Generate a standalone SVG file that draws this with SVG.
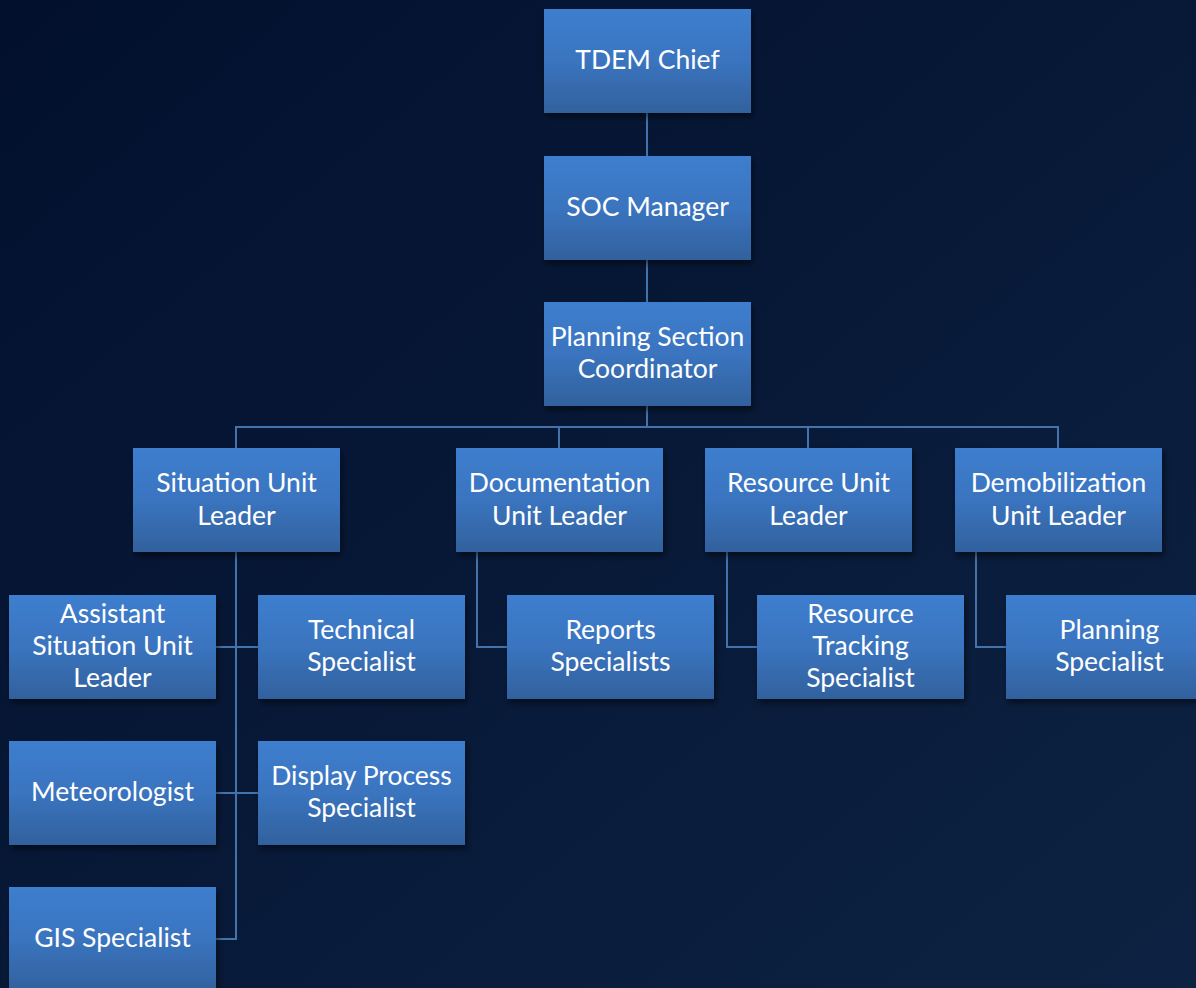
<svg xmlns="http://www.w3.org/2000/svg" width="1196" height="988" viewBox="0 0 1196 988">
<defs>
<linearGradient id="bg" x1="0" y1="0" x2="1" y2="1">
<stop offset="0" stop-color="#02102d"/>
<stop offset="1" stop-color="#0d2242"/>
</linearGradient>
<linearGradient id="box" x1="0" y1="0" x2="0" y2="1">
<stop offset="0" stop-color="#3d7ece"/>
<stop offset="0.5" stop-color="#3a74bf"/>
<stop offset="1" stop-color="#32619d"/>
</linearGradient>
<filter id="sh" x="-10%" y="-10%" width="130%" height="140%">
<feDropShadow dx="2" dy="4" stdDeviation="3" flood-color="#000000" flood-opacity="0.5"/>
</filter>
</defs>
<style>
.n rect{fill:url(#box);filter:url(#sh);}
.n text{fill:#ffffff;font-family:Lato,"Open Sans","Liberation Sans",sans-serif;font-size:26.5px;text-anchor:middle;}
.c path{fill:none;stroke:#4572a8;stroke-width:2;}
</style>
<rect width="1196" height="988" fill="url(#bg)"/>
<g id="connectors" class="c">
<path d="M647 112V156M647 259V302M647 405V427"/>
<path d="M236 448V427H1058V448M559 427V448M808 427V448"/>
<path d="M236 551V939H215M215 647H258M215 793H258"/>
<path d="M477 551V647H507"/>
<path d="M727 551V647H757"/>
<path d="M976 551V647H1006"/>
</g>
<g id="tdem-chief" class="n"><rect x="544" y="9" width="207" height="104"/><text x="647.5" y="69">TDEM Chief</text></g>
<g id="soc-manager" class="n"><rect x="544" y="156" width="207" height="104"/><text x="647.5" y="216">SOC Manager</text></g>
<g id="planning-section-coordinator" class="n"><rect x="544" y="302" width="207" height="104"/><text x="647.5" y="346">Planning Section</text><text x="647.5" y="378">Coordinator</text></g>
<g id="situation-unit-leader" class="n"><rect x="133" y="448" width="207" height="104"/><text x="236.5" y="492">Situation Unit</text><text x="236.5" y="525">Leader</text></g>
<g id="documentation-unit-leader" class="n"><rect x="456" y="448" width="207" height="104"/><text x="559.5" y="492">Documentation</text><text x="559.5" y="525">Unit Leader</text></g>
<g id="resource-unit-leader" class="n"><rect x="705" y="448" width="207" height="104"/><text x="808.5" y="492">Resource Unit</text><text x="808.5" y="525">Leader</text></g>
<g id="demobilization-unit-leader" class="n"><rect x="955" y="448" width="207" height="104"/><text x="1058.5" y="492">Demobilization</text><text x="1058.5" y="525">Unit Leader</text></g>
<g id="assistant-situation-unit-leader" class="n"><rect x="9" y="595" width="207" height="104"/><text x="112.5" y="623">Assistant</text><text x="112.5" y="655">Situation Unit</text><text x="112.5" y="687">Leader</text></g>
<g id="technical-specialist" class="n"><rect x="258" y="595" width="207" height="104"/><text x="361.5" y="639">Technical</text><text x="361.5" y="671">Specialist</text></g>
<g id="reports-specialists" class="n"><rect x="507" y="595" width="207" height="104"/><text x="610.5" y="639">Reports</text><text x="610.5" y="671">Specialists</text></g>
<g id="resource-tracking-specialist" class="n"><rect x="757" y="595" width="207" height="104"/><text x="860.5" y="623">Resource</text><text x="860.5" y="655">Tracking</text><text x="860.5" y="687">Specialist</text></g>
<g id="planning-specialist" class="n"><rect x="1006" y="595" width="207" height="104"/><text x="1109.5" y="639">Planning</text><text x="1109.5" y="671">Specialist</text></g>
<g id="meteorologist" class="n"><rect x="9" y="741" width="207" height="104"/><text x="112.5" y="801">Meteorologist</text></g>
<g id="display-process-specialist" class="n"><rect x="258" y="741" width="207" height="104"/><text x="361.5" y="785">Display Process</text><text x="361.5" y="817">Specialist</text></g>
<g id="gis-specialist" class="n"><rect x="9" y="887" width="207" height="104"/><text x="112.5" y="947">GIS Specialist</text></g>
</svg>
